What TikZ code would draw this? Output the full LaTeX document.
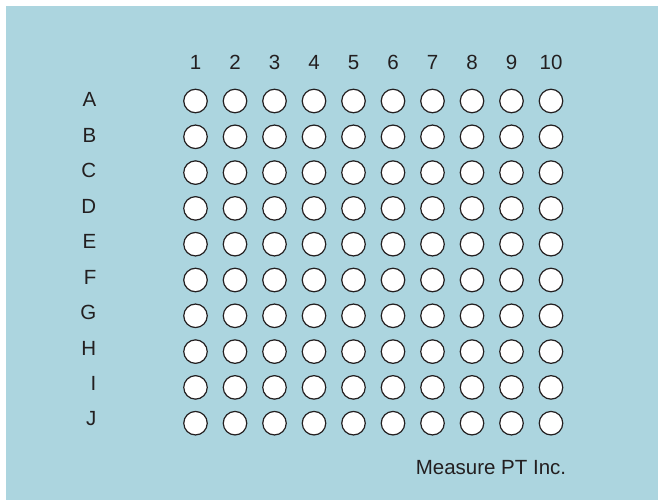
\documentclass[tikz,border=0pt]{standalone}
\usepackage{fontspec}
\setmainfont{Liberation Sans}
\usetikzlibrary{positioning}
\definecolor{platebg}{RGB}{172,213,223}
\definecolor{inkgray}{RGB}{35,31,32}
\tikzset{
  % One well of the plate
  well/.style={
    circle, draw=inkgray, fill=white, line width=1.2pt,
    minimum size=23.5pt, inner sep=0pt
  },
  % Column numbers along the top
  colhead/.style={
    text=inkgray, inner sep=0pt, font=\fontsize{20.5}{24}\selectfont
  },
  % Row letters down the left side
  rowhead/.style={
    text=inkgray, inner sep=0pt, anchor=east, font=\fontsize{20.5}{24}\selectfont
  },
  % Maker's note in the lower right corner
  maker/.style={
    text=inkgray, inner sep=0pt, font=\fontsize{20.5}{24}\selectfont
  }
}

\begin{document}
\begin{tikzpicture}[x=1pt, y=-1pt]

% ============================================================
% PLATE -- background
% ============================================================
\useasboundingbox (0,0) rectangle (658,500);
\fill[platebg] (6,6) rectangle (658,500);

% ============================================================
% COLUMN NUMBERS
% ============================================================
\foreach \c in {1,...,10} {
  \node[colhead] (col-\c) at ({195.5+39.5*(\c-1)}, 62.5) {\c};
}

% ============================================================
% ROW LETTERS + WELLS
% ============================================================
\foreach \r [count=\k from 0] in {A,B,C,D,E,F,G,H,I,J} {
  \node[rowhead] (row-\r) at (96.5, {99.5+35.5*\k}) {\r};
  \foreach \c in {1,...,10} {
    \node[well] (well-\r-\c) at ({195.5+39.5*(\c-1)}, {101+35.8*\k}) {};
  }
}

% ============================================================
% MAKER
% ============================================================
\node[maker] (maker-name) at (491, 468) {Measure PT Inc.};

\end{tikzpicture}
\end{document}
